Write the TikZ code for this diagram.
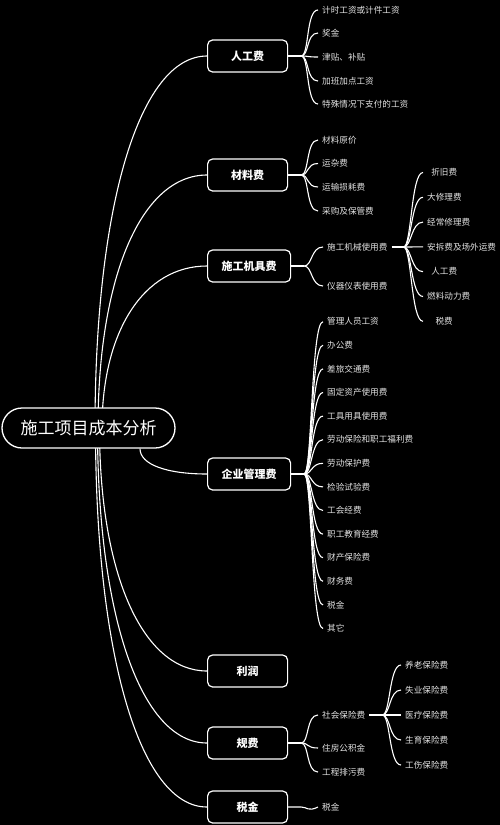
\documentclass[tikz,border=0pt]{standalone}
\usepackage{fontspec}
\setmainfont{Noto Sans CJK SC}
\pgfdeclarelayer{canvas}
\pgfdeclarelayer{links}
\pgfsetlayers{canvas,links,main}
\definecolor{leafgray}{RGB}{228,228,228}

\begin{document}
\begin{tikzpicture}[
  x = 1pt, y = -1pt,
  rootbox/.style  = {rectangle, rounded corners=20pt, draw=white, line width=1.3pt, fill=black,
                     minimum width=173pt, minimum height=40pt, text=white,
                     font=\fontsize{17}{20}\selectfont},
  catbox/.style   = {rectangle, rounded corners=5pt, draw=white, line width=1.2pt, fill=black,
                     anchor=west, minimum width=80pt, minimum height=32pt, inner xsep=14pt,
                     text=white, font=\fontsize{11}{13}\selectfont\bfseries},
  leaf/.style     = {anchor=west, inner sep=4pt, text=leafgray, font=\fontsize{8.6}{10}\selectfont},
  subleaf/.style  = {leaf, minimum width=42pt},
  link/.style     = {draw=white, line width=1.1pt}
]

\begin{pgfonlayer}{canvas}
  \fill[black] (0,0) rectangle (500,825);
\end{pgfonlayer}
\useasboundingbox (0,0) rectangle (500,825);

% root and first level
\node[rootbox] (cost)     at (88.5,428) {施工项目成本分析};
\node[catbox]  (labour)   at (207,56)  {人工费};
\node[catbox]  (material) at (207,175) {材料费};
\node[catbox]  (machine)  at (207,266) {施工机具费};
\node[catbox]  (overhead) at (207,474) {企业管理费};
\node[catbox]  (profit)   at (207,671) {利润};
\node[catbox]  (fees)     at (207,743) {规费};
\node[catbox]  (tax)      at (207,807) {税金};

\coordinate (from-overhead) at ([xshift=51.5pt]cost.south);
\begin{pgfonlayer}{links}
  \foreach \n/\sx/\ey in {labour/95/56, material/98/175, machine/102/266,
                          profit/99.5/671, fees/97.5/743, tax/95.5/807} {
    \coordinate (from-\n) at (\sx,428);
    \draw[link] (from-\n) .. controls +(0,{-0.6*(428-\ey)}) and +({-0.6*(207-\sx)},0) .. (\n.west);
  }
  \draw[link] (from-overhead) .. controls +(0,16) and +(-40,0) .. (overhead.west);
\end{pgfonlayer}

% second level
\foreach \p/\x/\list in {
  labour/318/{10/计时工资或计件工资, 33/奖金, 57/津贴、补贴, 81/加班加点工资, 104/特殊情况下支付的工资},
  material/318/{140/材料原价, 163.5/运杂费, 187/运输损耗费, 211/采购及保管费},
  machine/323/{247/施工机械使用费, 286/仪器仪表使用费},
  overhead/323/{321.7/管理人员工资, 345.3/办公费, 368.9/差旅交通费, 392.5/固定资产使用费,
                416.1/工具用具使用费, 439.7/劳动保险和职工福利费, 463.3/劳动保护费, 486.9/检验试验费,
                510.5/工会经费, 534.1/职工教育经费, 557.7/财产保险费, 581.3/财务费, 604.9/税金, 628.5/其它},
  fees/318/{715/社会保险费, 748/住房公积金, 772/工程排污费}}{
  \coordinate (\p-fork) at ([xshift=13pt]\p.east);
  \draw[link] (\p) -- (\p-fork);
  \foreach \y/\t [count=\i] in \list {
    \node[leaf] (\p-\i) at (\x,\y) {\t};
    \draw[link] (\p-fork) .. controls +(8,0) and +(-12,0) .. (\p-\i.west);
  }
}

\coordinate (tax-fork) at ([xshift=13pt]tax.east);
\node[leaf] (tax-1) at (318,807) {税金};
\draw[link] (tax) -- (tax-fork) .. controls +(6,0) and +(-10,5) .. (tax-1.west);

% third level
\coordinate (machine-1-fork) at ([xshift=12pt]machine-1.east);
\draw[link] (machine-1) -- (machine-1-fork);
\foreach \y/\t [count=\i] in {172.5/折旧费, 197.3/大修理费, 222.1/经常修理费, 246.9/安拆费及场外运费,
                              271.7/人工费, 296.5/燃料动力费, 321.3/税费} {
  \node[subleaf] (part-\i) at (423,\y) {\t};
  \draw[link] (machine-1-fork) .. controls +(8,0) and +(-12,0) .. (part-\i.west);
}

\coordinate (fees-1-fork) at ([xshift=13pt]fees-1.east);
\draw[link] (fees-1) -- (fees-1-fork);
\foreach \y/\t [count=\i] in {665/养老保险费, 690/失业保险费, 715/医疗保险费, 740/生育保险费, 765/工伤保险费} {
  \node[leaf] (social-\i) at (401,\y) {\t};
  \draw[link] (fees-1-fork) .. controls +(8,0) and +(-12,0) .. (social-\i.west);
}

\end{tikzpicture}
\end{document}
